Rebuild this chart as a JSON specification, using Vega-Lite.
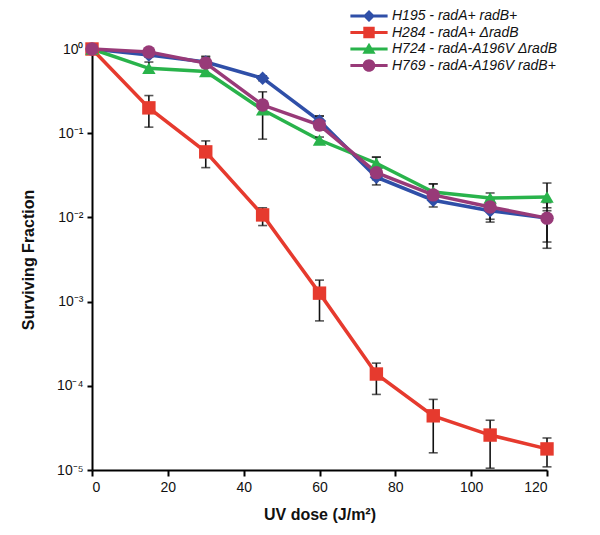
{
  "$schema": "https://vega.github.io/schema/vega-lite/v6.json",
  "autosize": "none",
  "width": 455,
  "height": 421,
  "padding": {"left": 92, "top": 49, "right": 53, "bottom": 65},
  "background": "white",
  "config": {
    "view": {"stroke": null},
    "font": "Liberation Sans",
    "axis": {
      "grid": false,
      "domainColor": "black",
      "domainWidth": 2,
      "tickColor": "black",
      "tickWidth": 2,
      "tickSize": 5,
      "labelFont": "Liberation Sans",
      "labelFontSize": 14,
      "labelColor": "#111",
      "titleFont": "Liberation Sans",
      "titleFontSize": 16,
      "titleFontWeight": "bold",
      "titleColor": "#111"
    }
  },
  "data": {"values": [
    {"series": "H195 - radA+ radB+", "dose": 0, "value": 1.0, "lo": 1.0, "hi": 1.0},
    {"series": "H195 - radA+ radB+", "dose": 15, "value": 0.85, "lo": 0.8, "hi": 0.9},
    {"series": "H195 - radA+ radB+", "dose": 30, "value": 0.70, "lo": 0.62, "hi": 0.80},
    {"series": "H195 - radA+ radB+", "dose": 45, "value": 0.45, "lo": 0.42, "hi": 0.48},
    {"series": "H195 - radA+ radB+", "dose": 60, "value": 0.14, "lo": 0.125, "hi": 0.16},
    {"series": "H195 - radA+ radB+", "dose": 75, "value": 0.030, "lo": 0.0243, "hi": 0.034},
    {"series": "H195 - radA+ radB+", "dose": 90, "value": 0.016, "lo": 0.0133, "hi": 0.018},
    {"series": "H195 - radA+ radB+", "dose": 105, "value": 0.012, "lo": 0.0095, "hi": 0.014},
    {"series": "H195 - radA+ radB+", "dose": 120, "value": 0.0098, "lo": 0.0043, "hi": 0.012},
    {"series": "H284 - radA+ ΔradB", "dose": 0, "value": 1.0, "lo": 1.0, "hi": 1.0},
    {"series": "H284 - radA+ ΔradB", "dose": 15, "value": 0.20, "lo": 0.118, "hi": 0.28},
    {"series": "H284 - radA+ ΔradB", "dose": 30, "value": 0.060, "lo": 0.039, "hi": 0.081},
    {"series": "H284 - radA+ ΔradB", "dose": 45, "value": 0.0107, "lo": 0.008, "hi": 0.013},
    {"series": "H284 - radA+ ΔradB", "dose": 60, "value": 0.00126, "lo": 0.00059, "hi": 0.0018},
    {"series": "H284 - radA+ ΔradB", "dose": 75, "value": 0.000138, "lo": 0.000079, "hi": 0.000186},
    {"series": "H284 - radA+ ΔradB", "dose": 90, "value": 0.000044, "lo": 0.000016, "hi": 0.000069},
    {"series": "H284 - radA+ ΔradB", "dose": 105, "value": 0.000026, "lo": 0.0000105, "hi": 0.000039},
    {"series": "H284 - radA+ ΔradB", "dose": 120, "value": 0.0000178, "lo": 0.0000109, "hi": 0.000024},
    {"series": "H724 - radA-A196V ΔradB", "dose": 0, "value": 1.0, "lo": 1.0, "hi": 1.0},
    {"series": "H724 - radA-A196V ΔradB", "dose": 15, "value": 0.59, "lo": 0.52, "hi": 0.70},
    {"series": "H724 - radA-A196V ΔradB", "dose": 30, "value": 0.54, "lo": 0.48, "hi": 0.60},
    {"series": "H724 - radA-A196V ΔradB", "dose": 45, "value": 0.19, "lo": 0.169, "hi": 0.22},
    {"series": "H724 - radA-A196V ΔradB", "dose": 60, "value": 0.083, "lo": 0.075, "hi": 0.09},
    {"series": "H724 - radA-A196V ΔradB", "dose": 75, "value": 0.044, "lo": 0.038, "hi": 0.052},
    {"series": "H724 - radA-A196V ΔradB", "dose": 90, "value": 0.020, "lo": 0.017, "hi": 0.025},
    {"series": "H724 - radA-A196V ΔradB", "dose": 105, "value": 0.017, "lo": 0.0145, "hi": 0.0195},
    {"series": "H724 - radA-A196V ΔradB", "dose": 120, "value": 0.0175, "lo": 0.013, "hi": 0.0256},
    {"series": "H769 - radA-A196V radB+", "dose": 0, "value": 1.0, "lo": 1.0, "hi": 1.0},
    {"series": "H769 - radA-A196V radB+", "dose": 15, "value": 0.92, "lo": 0.85, "hi": 0.98},
    {"series": "H769 - radA-A196V radB+", "dose": 30, "value": 0.68, "lo": 0.62, "hi": 0.82},
    {"series": "H769 - radA-A196V radB+", "dose": 45, "value": 0.216, "lo": 0.085, "hi": 0.31},
    {"series": "H769 - radA-A196V radB+", "dose": 60, "value": 0.125, "lo": 0.11, "hi": 0.16},
    {"series": "H769 - radA-A196V radB+", "dose": 75, "value": 0.034, "lo": 0.028, "hi": 0.052},
    {"series": "H769 - radA-A196V radB+", "dose": 90, "value": 0.0185, "lo": 0.016, "hi": 0.025},
    {"series": "H769 - radA-A196V radB+", "dose": 105, "value": 0.0133, "lo": 0.0088, "hi": 0.016},
    {"series": "H769 - radA-A196V radB+", "dose": 120, "value": 0.0098, "lo": 0.0051, "hi": 0.015}
  ]},
  "encoding": {
    "x": {
      "field": "dose", "type": "quantitative",
      "scale": {"domain": [0, 120], "nice": false, "zero": false},
      "axis": {"values": [0, 20, 40, 60, 80, 100, 120], "title": "UV dose (J/m²)", "labelPadding": 4, "titlePadding": 12, "tickSize": 6}
    },
    "y": {
      "field": "value", "type": "quantitative",
      "scale": {"type": "log", "domain": [0.00001, 1], "nice": false},
      "axis": {
        "values": [1, 0.1, 0.01, 0.001, 0.0001, 0.00001],
        "labelExpr": "datum.value >= 0.5 ? '10⁰' : datum.value >= 0.05 ? '10⁻¹' : datum.value >= 0.005 ? '10⁻²' : datum.value >= 0.0005 ? '10⁻³' : datum.value >= 0.00005 ? '10⁻⁴' : '10⁻⁵'",
        "title": "Surviving Fraction",
        "labelPadding": 4,
        "titlePadding": 20
      }
    }
  },
  "layer": [
    {
      "mark": {"type": "line", "strokeWidth": 3.5},
      "encoding": {
        "color": {
          "field": "series", "type": "nominal", "legend": null,
          "scale": {"domain": ["H195 - radA+ radB+", "H284 - radA+ ΔradB", "H724 - radA-A196V ΔradB", "H769 - radA-A196V radB+"], "range": ["#2f4fa8", "#e63a2e", "#29b34b", "#983a78"]}
        }
      }
    },
    {
      "mark": {"type": "rule", "color": "#111", "strokeWidth": 1.6},
      "encoding": {"y": {"field": "lo", "type": "quantitative"}, "y2": {"field": "hi"}}
    },
    {
      "mark": {"type": "tick", "orient": "horizontal", "color": "#111", "thickness": 1.6, "size": 9},
      "encoding": {"y": {"field": "lo", "type": "quantitative"}}
    },
    {
      "mark": {"type": "tick", "orient": "horizontal", "color": "#111", "thickness": 1.6, "size": 9},
      "encoding": {"y": {"field": "hi", "type": "quantitative"}}
    },
    {
      "mark": {"type": "point", "filled": true, "opacity": 1, "size": 180, "strokeWidth": 0},
      "encoding": {
        "color": {
          "field": "series", "type": "nominal", "legend": null,
          "scale": {"domain": ["H195 - radA+ radB+", "H284 - radA+ ΔradB", "H724 - radA-A196V ΔradB", "H769 - radA-A196V radB+"], "range": ["#2f4fa8", "#e63a2e", "#29b34b", "#983a78"]}
        },
        "shape": {
          "field": "series", "type": "nominal", "legend": null,
          "scale": {"domain": ["H195 - radA+ radB+", "H284 - radA+ ΔradB", "H724 - radA-A196V ΔradB", "H769 - radA-A196V radB+"], "range": ["diamond", "square", "triangle-up", "circle"]}
        }
      }
    },
    {
      "mark": {"type": "point", "filled": true, "opacity": 0, "size": 144, "strokeWidth": 0},
      "encoding": {
        "color": {
          "field": "series", "type": "nominal",
          "scale": {"domain": ["H195 - radA+ radB+", "H284 - radA+ ΔradB", "H724 - radA-A196V ΔradB", "H769 - radA-A196V radB+"], "range": ["#2f4fa8", "#e63a2e", "#29b34b", "#983a78"]},
          "legend": {"title": null, "orient": "none", "legendX": 270, "legendY": -40, "padding": 0, "symbolSize": 144, "symbolOpacity": 1, "symbolStrokeWidth": 0, "labelOffset": 16, "labelFontSize": 14, "labelFontStyle": "italic", "labelFont": "Liberation Sans", "labelColor": "#111", "rowPadding": 2.5, "labelLimit": 400}
        },
        "shape": {
          "field": "series", "type": "nominal",
          "scale": {"domain": ["H195 - radA+ radB+", "H284 - radA+ ΔradB", "H724 - radA-A196V ΔradB", "H769 - radA-A196V radB+"], "range": [
            "M-3.1,-0.25H3.1V0.25H-3.1Z M0,-1L1,0L0,1L-1,0Z",
            "M-3.1,-0.25H3.1V0.25H-3.1Z M-0.95,-0.95H0.95V0.95H-0.95Z",
            "M-3.1,-0.25H3.1V0.25H-3.1Z M0,-1.05L1.1,0.8H-1.1Z",
            "M-3.1,-0.25H3.1V0.25H-3.1Z M-1.05,0A1.05,1.05 0 1,1 1.05,0A1.05,1.05 0 1,1 -1.05,0Z"
          ]},
          "legend": {"title": null, "orient": "none", "legendX": 270, "legendY": -40, "padding": 0, "symbolSize": 144, "symbolOpacity": 1, "symbolStrokeWidth": 0, "labelOffset": 16, "labelFontSize": 14, "labelFontStyle": "italic", "labelFont": "Liberation Sans", "labelColor": "#111", "rowPadding": 2.5, "labelLimit": 400}
        }
      }
    }
  ],
  "resolve": {"scale": {"color": "independent", "shape": "independent"}}
}
